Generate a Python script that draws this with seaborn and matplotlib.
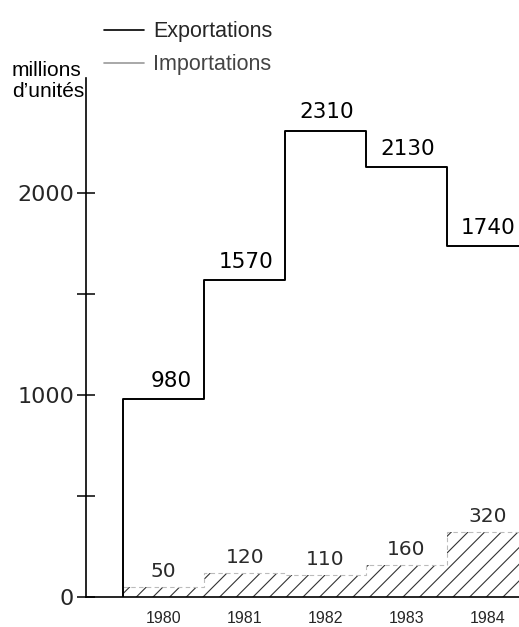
import matplotlib
matplotlib.use("Agg")
import matplotlib.pyplot as plt
from matplotlib.lines import Line2D
import seaborn as sns
import numpy as np

years = [1980, 1981, 1982, 1983, 1984]
exportations = [980, 1570, 2310, 2130, 1740]
importations = [50, 120, 110, 160, 320]
yticks = [0, 500, 1000, 1500, 2000]
ytick_labels = ["0", "", "1000", "", "2000"]

sns.set_theme(style="white")
plt.rcParams["font.family"] = ["DejaVu Sans"]
plt.rcParams["hatch.linewidth"] = 0.8

W, H = 519, 627
fig = plt.figure(figsize=(W / 100, H / 100), dpi=100)
ax = fig.add_axes([86 / W, 1 - 597 / H, 1 - 86 / W, (597 - 78) / H])

edges = np.append(np.array(years) - 0.5, years[-1] + 0.5)

# importations: hatched steps
ax.stairs(importations, edges, baseline=0, fill=True, facecolor="white",
          edgecolor="#333333", hatch="//", linewidth=0)
ax.stairs(importations, edges, baseline=None, color="#bbbbbb",
          linewidth=0.8, linestyle=(0, (4, 3)))

# exportations: black step line starting from 0
xs = np.concatenate([[edges[0]], edges])
ys = np.concatenate([[0], exportations, [exportations[-1]]])
sns.lineplot(x=xs, y=ys, drawstyle="steps-post", estimator=None, sort=False,
             color="black", linewidth=1.4, ax=ax)

for yr, v in zip(years, exportations):
    ax.text(yr + 0.5 - 0.15, v + 40, str(v), ha="right", va="bottom",
            fontsize=15.5, color="black")
for yr, v in zip(years, importations):
    ax.text(yr, v + 30, str(v), ha="center", va="bottom",
            fontsize=14.5, color="#2a2a2a")

ax.set_xlim(1979.04, 1984.39)
ax.set_ylim(0, 2570)
ax.set_yticks(yticks)
ax.set_yticklabels(ytick_labels, fontsize=16)
ax.set_xticks(years)
ax.set_xticklabels([str(y) for y in years], fontsize=11.5,
                   family="Liberation Sans")
ax.tick_params(axis="y", direction="inout", length=13, width=1.1,
               color="black", pad=2, left=True)
ax.tick_params(axis="x", length=0, pad=10)

for s in ["top", "right"]:
    ax.spines[s].set_visible(False)
for s in ["left", "bottom"]:
    ax.spines[s].set_color("black")
    ax.spines[s].set_linewidth(1.2)
ax.grid(False)

fig.text(12 / W, 1 - 76 / H, "millions", fontsize=15,
         family="Liberation Sans", color="black")
fig.text(12 / W, 1 - 97 / H, "d\u2019unités", fontsize=15,
         family="Liberation Sans", color="black")

handles = [Line2D([], [], color="black", linewidth=1.2),
           Line2D([], [], color="#999999", linewidth=1.2)]
leg = fig.legend(handles, ["Exportations", "Importations"], loc="upper left",
                 bbox_to_anchor=(85 / W, 1 - 2 / H), frameon=False,
                 handlelength=1.85, handletextpad=0.42, labelspacing=0.55,
                 prop={"family": "Liberation Sans", "size": 15.5})
leg.get_texts()[1].set_color("#444444")

fig.savefig("out.png", dpi=100)
